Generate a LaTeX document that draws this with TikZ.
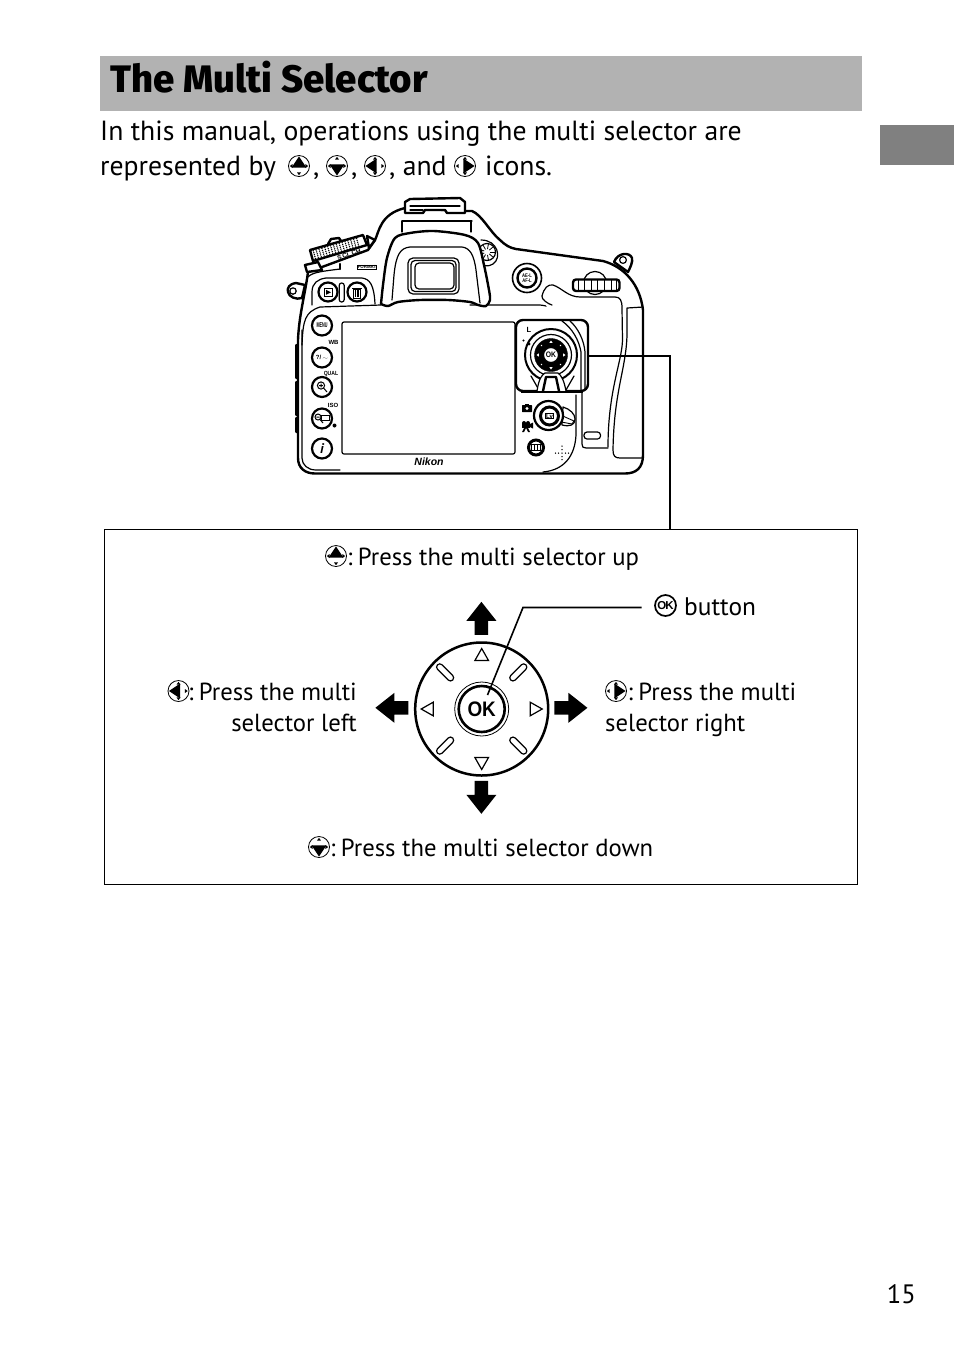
\documentclass[tikz,border=0pt]{standalone}
\usepackage{fontspec}
\setmainfont{PT Sans}
\newfontfamily\titlef[BoldFont={Fira Sans ExtraBold}]{Fira Sans}
\newfontfamily\labf{Liberation Sans}
\usetikzlibrary{calc}
\definecolor{bar}{HTML}{B2B2B2}
\definecolor{tab}{HTML}{808080}
\tikzset{
 body/.style={anchor=base west,inner sep=0pt,font=\fontsize{27.7}{30}\selectfont},
 dtext/.style={anchor=base west,inner sep=0pt,font=\fontsize{24.7}{30}\selectfont},
 dtextr/.style={anchor=base east,inner sep=0pt,font=\fontsize{24.7}{30}\selectfont},
 cam/.style={line width=1.2pt,line join=round,line cap=round},
 camb/.style={line width=2.4pt,line join=round,line cap=round},
 btn/.style={circle,draw,line width=2.2pt,fill=white,inner sep=0pt,minimum size=#1,font=\labf\bfseries\fontsize{6}{6}\selectfont},
 tiny/.style={inner sep=0pt,font=\labf\bfseries\fontsize{6}{6}\selectfont},
 bigarrow/.style={fill=black,draw=none},
 tri/.style={draw,line width=1.2pt,fill=white,line join=miter},
 pill/.style={draw,line width=1.2pt,fill=white,line cap=round},
 selicon/.pic={
   \draw[line width=.8pt] (0,0) circle (10.5);
   \fill (0,-9.6) -- (7.4,1.6) -- (-7.4,1.6) -- cycle;
   \foreach \r in {90,180,270}{
     \begin{scope}[rotate=\r]
       \fill (0,-9.2) -- (2,-6.4) -- (-2,-6.4) -- cycle;
     \end{scope}}
 },
 okicon/.pic={
   \draw[line width=1.7pt,fill=white] (0,0) circle (10.5);
   \node[inner sep=0pt,font=\labf\bfseries\fontsize{11.5}{11.5}\selectfont] at (0,0) {O\kern-.8pt K};
 }
}
\begin{document}
\begin{tikzpicture}[x=1pt,y=-1pt]
\useasboundingbox (0,0) rectangle (954,1345);
\fill[white] (0,0) rectangle (954,1345);
% header
\fill[bar] (100,56) rectangle (862,111);
\fill[tab] (880,125) rectangle (954,165);
\node[anchor=base west,inner sep=0pt,font=\titlef\bfseries\fontsize{38.3}{38}\selectfont] (title) at (110,92) {The Multi Selector};
\node[body] (l1) at (100,140) {In this manual, operations using the multi selector are};
\node[body] (l2) at (100,175) {represented by};
\pic at (299,166) {selicon};
\node[body] at (313,175) {,};
\pic[rotate=180] at (337,166) {selicon};
\node[body] at (351,175) {,};
\pic[rotate=90] at (375,166) {selicon};
\node[body] at (389,175) {, and};
\pic[rotate=-90] at (465,166) {selicon};
\node[body] at (485,175) {icons.};
\node[anchor=base east,inner sep=0pt,font=\fontsize{26.6}{30}\selectfont] (pg) at (916,1303) {15};

% camera body outline
\draw[camb,fill=white] (465,211) -- (472,211) .. controls (482,215) and (490,232) .. (500,240) .. controls (505,245) and (510,248) .. (516,249) -- (603,261) .. controls (625,267) and (640,285) .. (643,310)
 -- (643,455) .. controls (643,468) and (636,473.5) .. (625,473.5) -- (315,473.5) .. controls (305,473.5) and (298,468) .. (298,458) -- (298,340)
 .. controls (299,315) and (305,295) .. (308,272) -- (322,267) -- (368,250) -- (375,240) .. controls (379,232) and (380,214) .. (405,208) -- cycle;
% left grip bumps
\draw[camb] (296.5,345) -- (296.5,378) (296.5,382) -- (296.5,415) (296.5,418) -- (296.5,432);
\draw[cam] (302,330) -- (302,458) .. controls (302,465) and (308,470) .. (316,470) -- (340,470);
% inner line
\draw[cam] (302,345) .. controls (303,320) and (305,312) .. (320,307) -- (381,305);
\draw[cam] (470,305) -- (540,305) .. controls (560,307) and (575,320) .. (580,340);
\draw[cam] (576,395) -- (576,435) .. controls (575,455) and (565,470) .. (543,472);
\draw[cam] (308,277) .. controls (312,272) and (325,271) .. (340,269);
% lugs
\draw[camb,fill=white] (296,283) .. controls (289,284) and (287,288) .. (288,292) .. controls (289,297) and (296,300) .. (302,298) -- (305,285) -- cycle;
\draw[cam,fill=white] (293,291) circle (3.2);
\draw[camb,fill=white] (614,262) .. controls (618,252) and (630,252) .. (632,258) .. controls (633,262) and (630,268) .. (628,272) -- cycle;
\draw[cam,fill=white] (623,260) circle (3.4);
% command dial
\draw[camb,fill=white] (328,244) -- (331,239) -- (339,238) -- (341,241);
\draw[camb,fill=white] (310,250) -- (363,235) -- (367,245) -- (313,261) -- cycle;
\begin{scope}[shift={(311.5,255.5)},rotate=16]
 \foreach \i in {1,...,16}{\foreach \j in {0,...,4}{\fill (\i*3,4-\j*2) circle (.8);}}
\end{scope}
\draw[camb,fill=white] (367,236) -- (375,240) -- (369,248) -- cycle;
\draw[camb,fill=white] (305,265) -- (318,262) -- (322,270) -- (307,272) -- cycle;
\node[inner sep=0pt,rotate=18,font=\labf\bfseries\fontsize{6.5}{6.5}\selectfont] (relmode) at (349,254.5) {S\,CL\,CH};
\draw[camb] (340,264) -- (340,269);
\node[inner sep=.4pt,draw,line width=.6pt,font=\labf\bfseries\fontsize{4.4}{4.4}\selectfont] (fmt) at (367,267) {FORMAT};
% top hot shoe & prism
\draw[cam] (402,221) -- (472,221);
\draw[camb,fill=white] (405,213) -- (405,202) -- (410,199) -- (460,198) -- (465,202) -- (465,213) -- (447,213) -- (445,210) -- (425,210) -- (423,213) -- cycle;
\draw[cam] (410,206) -- (460,206);
\draw[cam] (425,210) -- (445,210) (410,210) -- (423,210);
\draw[cam] (402,221) -- (402,232) (471,221) -- (471,232);
% diopter
\draw[cam,fill=white] (481,240) .. controls (498,240) and (502,258) .. (493,264) .. controls (488,267) and (484,266) .. (482,264);
\draw[cam,fill=white] (487,252) circle (8.5);
\foreach \a in {0,40,...,320}{\draw[line width=.8pt] ($(487,252)+(\a:3)$) -- ($(487,252)+(\a:8)$);}
% eyecup
\draw[camb,fill=white] plot[smooth,tension=.5] coordinates {(381,304)(383,285)(387,258)(395,238)(410,233)(434,231)(465,235)(478,243)(484,265)(489,290)(490,300)(486,306)(478,305)(470,302)(448,300)(420,300)(398,302)(388,306)(381,304)};
\draw[cam] (392,300) -- (394,275) .. controls (396,255) and (400,248) .. (410,247) -- (462,247) .. controls (470,248) and (474,255) .. (476,270) -- (480,303);
\draw[cam,fill=white,rounded corners=5pt] (408,258) rectangle (459,294);
\draw[cam,rounded corners=4pt] (411,260.5) rectangle (456,291.5);
\draw[cam,rounded corners=4pt,fill=white] (415,263) rectangle (454,289);
% playback panel
\draw[cam] (312,305) -- (312,292) .. controls (312,283) and (318,279) .. (326,278) -- (362,278) .. controls (370,279) and (374,285) .. (375,304);
\node[btn=19pt] (play) at (328,292) {};
\draw[line width=.9pt,fill=white] (324,288.5) rectangle (332,296);
\fill (326,289.8) -- (331,292.3) -- (326,294.8) -- cycle;
\node[btn=19pt] (bin) at (357,292) {};
\draw[line width=.9pt] (353.5,289) rectangle (360.5,298);
\draw[line width=.9pt] (352,288) -- (362,288) (355.5,290) -- (355.5,297) (357,290) -- (357,297) (358.5,290) -- (358.5,297);
\draw[cam,rounded corners=2.4pt] (339.2,283) rectangle (344.2,302);
% AE-L
\node[circle,draw,line width=1.6pt,minimum size=29pt,inner sep=0pt] (aeo) at (527,278) {};
\node[circle,draw,line width=2.4pt,minimum size=19pt,inner sep=0pt,align=center,font=\labf\bfseries\fontsize{5.2}{5.2}\selectfont] (ael) at (527,278) {\scalebox{.8}[1]{AE-L}\\\scalebox{.8}[1]{AF-L}};
% sub dial
\draw[cam,fill=white] (595,283) circle (11.5);
\draw[cam,fill=white] (542,296) .. controls (544,288) and (548,284) .. (553,285) .. controls (562,288) and (568,297) .. (580,297) -- (615,297) .. controls (620,297) and (622,300) .. (622,308) -- (622.5,340) .. controls (622,362) and (608,390) .. (608,447);
\draw[cam] (542,296) .. controls (541,299) and (548,304) .. (552,305);
\draw[camb,fill=white,rounded corners=3pt] (573,279.5) rectangle (619.5,291);
\foreach \x in {578,584,591,597,604,611,616}{\draw[line width=.8pt] (\x,280) -- (\x,290.5);}
% grip panel
\draw[cam] (643,307) -- (627,308) -- (627,335) .. controls (626,370) and (614,390) .. (613,450) .. controls (613,456) and (615,458) .. (620,458) -- (643,458);
\draw[cam] (582,388) -- (582,444) .. controls (582,447) and (583,448) .. (586,448) -- (608,448);
\draw[cam,rounded corners=3pt,fill=white] (584,432) rectangle (600.5,439);
% monitor
\draw[cam,rounded corners=2pt,fill=white] (342,322) rectangle (515,454);
% left buttons
\node[btn=20pt] (menu) at (322,325.5) {\scalebox{.62}[1.15]{MENU}};
\node[btn=20pt] (help) at (322,357.5) {?/\,\raisebox{.4pt}{\scalebox{1}[.7]{$\sim$}}};
\node[btn=20pt] (zoomin) at (322,387) {};
\draw[line width=1pt] (321,385.5) circle (3.6) (323.6,388) -- (327,392) (319.2,385.5) -- (322.8,385.5) (321,383.7) -- (321,387.3);
\node[btn=20pt] (zoomout) at (322,418.5) {};
\draw[line width=1pt] (318,417) circle (3) (316.3,417) -- (319.7,417) (320,419.5) -- (323,423);
\draw[line width=.8pt] (321.5,415) rectangle (329,420);
\node[btn=20pt,font=\fontsize{14}{14}\itshape\bfseries\selectfont] (info) at (322,448.5) {i};
\node[tiny] (wb) at (333.5,342) {WB};
\node[tiny] (qual) at (331,374) {\scalebox{.85}[1]{QUAL}};
\node[tiny] (iso) at (333,405.5) {ISO};
\fill (334.5,425.5) circle (2);
\node[inner sep=0pt,font=\labf\bfseries\itshape\fontsize{10.5}{10}\selectfont] (nikon) at (429,462) {Nikon};
% LV switch
\draw[cam,fill=white] (563,407) .. controls (570,409) and (575,414) .. (575,419) .. controls (575,425) and (570,427) .. (562,425) -- cycle;
\draw[line width=.9pt,fill=white] (556,413) -- (574,421) -- (572,424) -- (556,421) -- cycle;
\node[circle,draw,line width=2.2pt,fill=white,minimum size=29pt,inner sep=0pt] (lvsw) at (548.5,415.5) {};
\node[circle,draw,line width=3pt,fill=white,minimum size=18pt,inner sep=0pt] (lvb) at (549.5,416) {};
\node[draw,fill=white,line width=.9pt,inner sep=.7pt,font=\labf\bfseries\fontsize{6}{6}\selectfont] (lv) at (549.5,416) {Lv};
\fill[rounded corners=.5pt] (522,405) rectangle (532,412);
\fill (525,404) rectangle (529,406);
\fill[white] (527,408.5) circle (1.7);
\fill (522,423) rectangle (530,428);
\fill (524,423) circle (2) (528,423) circle (2) (530,424) -- (533,422.5) -- (533,428.5) -- (530,427) -- cycle (524,428) -- (522,432) -- (524,432) -- (526,428) -- (528,432) -- (530,432) -- (528,428) -- cycle;
\node[circle,draw,line width=3pt,fill=white,minimum size=15pt,inner sep=0pt] (disp) at (536,447.5) {};
\draw[line width=.9pt] (531.5,444.5) rectangle (540.5,450.5) (534.5,444.5) -- (534.5,450.5) (537.5,444.5) -- (537.5,450.5);
\foreach \p in {(562,446),(555.5,453),(558.5,453),(562,453),(565.5,453),(568.5,453),(562,449.5),(562,456.5),(562,459.5)}{\fill \p circle (.75);}
% multi selector frame
\node[draw,line width=2.4pt,rounded corners=7pt,fill=white,minimum width=72pt,minimum height=71pt,inner sep=0pt] (frame) at (552,355.5) {};
\begin{scope}
 \clip (517,321) rectangle (587,390);
 \draw[cam] (562,321) .. controls (572,328) and (579,340) .. (581,352) -- (581,390);
 \draw[cam] (570,321) .. controls (578,328) and (584,340) .. (585,352) -- (585,390);
 \draw[cam] (531,376) -- (539,390) (574,376) -- (566,390);
\end{scope}
\node[circle,draw,line width=2pt,fill=white,minimum size=52pt,inner sep=0pt] (mscollar) at (551,355) {};
\draw[line width=1.2pt] (551,355) circle (20.5);
\node[circle,fill=black,draw=black,minimum size=33pt,inner sep=0pt] (msring) at (551,355) {};
\node[circle,draw=black,fill=white,line width=1.2pt,minimum size=15pt,inner sep=0pt,font=\labf\bfseries\fontsize{8}{8}\selectfont] (msok) at (551,355) {\scalebox{.85}[1]{OK}};
\foreach \r in {0,90,180,270}{\begin{scope}[shift={(551,355)},rotate=\r]\fill[white] (0,-14.5) -- (1.6,-12.2) -- (-1.6,-12.2) -- cycle;\end{scope}}
\foreach \r in {45,135,225,315}{\begin{scope}[shift={(551,355)},rotate=\r]\fill[white] (0,-13.5) circle (.8);\end{scope}}
\draw[cam,fill=white] (537,391) .. controls (539,378) and (542,375) .. (545,373) -- (558,373) .. controls (561,375) and (564,380) .. (566,391);
\draw[camb,fill=white] (543,391) -- (546,377) -- (556,377) -- (559,391);
\draw[line width=2.4pt] ($(frame.south west)+(6,0)$) -- ($(frame.south east)+(-6,0)$);
\node[inner sep=0pt,font=\labf\bfseries\fontsize{7.5}{7.5}\selectfont] (lockL) at (529,329.5) {L};
\fill (523.5,340.5) circle (1.1) (529,344) circle (1.6);
% leader
\node[draw,line width=.9pt,minimum width=753pt,minimum height=354.5pt,inner sep=0pt] (panel) at (481,706.75) {};
\coordinate (ldrend) at (670,529.5);
\draw[line width=2pt] (frame.east |- 0,356) -- (ldrend |- 0,356) -- (ldrend);

% diagram
\node[circle,draw,line width=2.5pt,fill=white,minimum size=133pt,inner sep=0pt] (dial) at (481.7,709) {};
\node[circle,draw,line width=.8pt,minimum size=54pt,inner sep=0pt] (okout) at (481.7,709) {};
\node[circle,draw,line width=2.6pt,minimum size=46pt,inner sep=0pt,font=\labf\bfseries\fontsize{21}{21}\selectfont] (okb) at (481.7,709) {\scalebox{.9}[1]{OK}};
\foreach \r in {0,90,180,270}{\begin{scope}[shift={(481.7,709)},rotate=\r]\path[tri] (0,-60.5) -- (6.8,-48.5) -- (-6.8,-48.5) -- cycle;\end{scope}}
\foreach \r in {45,135,225,315}{\begin{scope}[shift={(481.7,709)},rotate=\r]\draw[pill,rounded corners=3.2pt] (-3.2,-62.5) rectangle (3.2,-41);\end{scope}}
\foreach \r in {0,90,180,270}{\begin{scope}[shift={(481.4,707.8)},rotate=\r]\fill[bigarrow] (0,-106) -- (15,-87) -- (6.7,-87) -- (6.7,-73) -- (-6.7,-73) -- (-6.7,-87) -- (-15,-87) -- cycle;\end{scope}}
% OK leader
\coordinate (oklab) at (641.5,607.5);
\coordinate (okelbow) at (523,607.5);
\coordinate (oktip) at (487.5,695);
\draw[line width=1.6pt] (oklab) -- (okelbow) -- (oktip);

\pic at (336,556) {selicon};
\node[dtext] (tu) at (347,565) {:\kern-3.5pt{} Press the multi selector up};
\pic[rotate=180] at (319,847) {selicon};
\node[dtext] (td) at (330,856) {:\kern-3.5pt{} Press the multi selector down};
\pic[rotate=90] at (178.5,691) {selicon};
\node[dtextr] (tl1) at (357,700) {:\kern-3.5pt{} Press the multi};
\node[dtextr] (tl2) at (357,731) {selector left};
\pic[rotate=-90] at (616,691) {selicon};
\node[dtext] (tr1) at (627.5,700) {:\kern-3.5pt{} Press the multi};
\node[dtext] (tr2) at (605,731) {selector right};
\pic at (665.5,605.5) {okicon};
\node[dtext,font=\fontsize{25.4}{30}\selectfont] (tok) at (684,615) {button};
\end{tikzpicture}
\end{document}
